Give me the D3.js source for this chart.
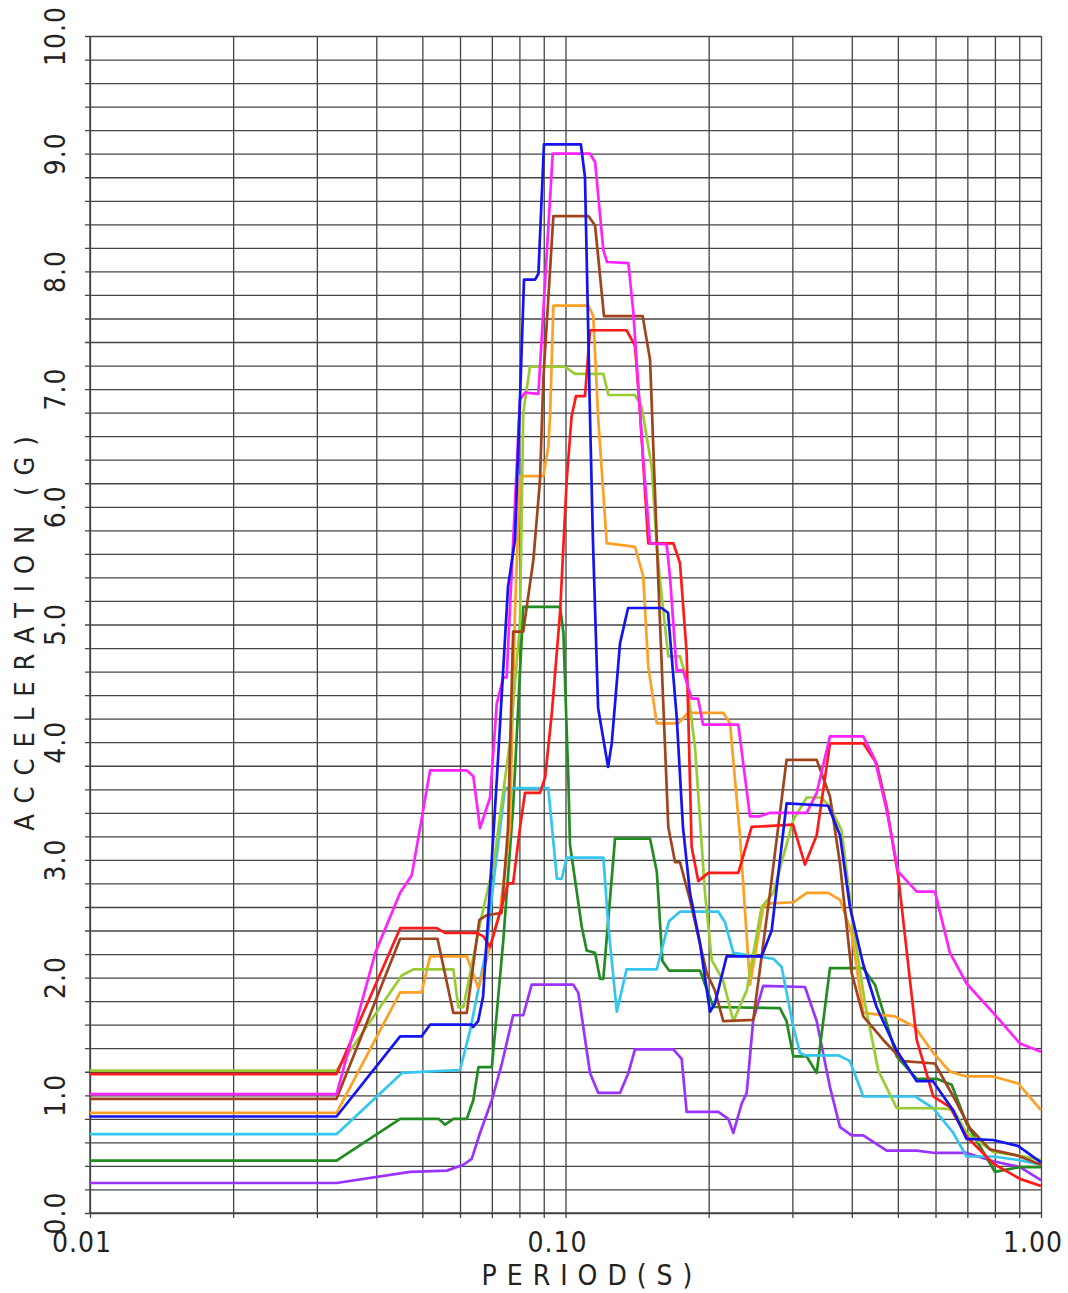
<!DOCTYPE html>
<html>
<head>
<meta charset="utf-8">
<script src="https://cdn.jsdelivr.net/npm/d3@7"></script>
<style>
  body { margin: 0; background: #fff; }
  svg { display: block; }
  text { font-family: "Liberation Sans Narrow", "DejaVu Sans Condensed", "Liberation Sans", sans-serif; fill: #222; }
</style>
</head>
<body>
<svg id="chart"></svg>
<script>
// plot area
var width = 1068;
var height = 1293;
var plotLeft = 90;
var plotRight = 1041;
var plotTop = 36;
var plotBottom = 1213;

// tick values
var periodGrid = [0.01, 0.02, 0.03, 0.04, 0.05, 0.06, 0.07, 0.08, 0.09,
                  0.1, 0.2, 0.3, 0.4, 0.5, 0.6, 0.7, 0.8, 0.9, 1.0];
var periodLabels = [[0.01, '0.01'], [0.1, '0.10'], [1.0, '1.00']];
var accelGrid = d3.range(0, 51).map(function(i) { return i / 5; });
var accelLabels = ['0.0', '1.0', '2.0', '3.0', '4.0', '5.0', '6.0', '7.0', '8.0', '9.0', '10.0'];

// series: [period (s), acceleration (g)]
var purpleData = [[0.01,0.255],[0.033,0.255],[0.0471,0.35],[0.0563,0.36],[0.061,0.41],[0.0635,0.46],
  [0.0661,0.68],[0.07,0.96],[0.0734,1.26],[0.0776,1.68],[0.0815,1.68],[0.0849,1.94],[0.1038,1.94],
  [0.1064,1.87],[0.1126,1.19],[0.1172,1.02],[0.1302,1.02],[0.1356,1.19],[0.14,1.39],[0.1686,1.39],
  [0.1755,1.31],[0.1798,0.86],[0.2096,0.86],[0.22,0.8],[0.2254,0.68],[0.2347,0.93],[0.2405,1.02],
  [0.2482,1.64],[0.2605,1.93],[0.3189,1.92],[0.3375,1.63],[0.3599,1.07],[0.3778,0.73],[0.3998,0.66],
  [0.4229,0.66],[0.4737,0.53],[0.5478,0.53],[0.5983,0.51],[0.6974,0.51],[0.7936,0.44],[0.9032,0.39],[1.0,0.28]];

var greenData = [[0.01,0.445],[0.033,0.445],[0.0449,0.8],[0.0541,0.8],[0.0558,0.75],[0.0581,0.8],
  [0.062,0.8],[0.064,0.96],[0.0656,1.24],[0.07,1.24],[0.0717,1.7],[0.074,2.32],[0.0776,3.45],
  [0.0789,4.02],[0.0815,5.15],[0.0974,5.15],[0.099,4.93],[0.1014,3.68],[0.1022,3.13],[0.1082,2.43],
  [0.1108,2.23],[0.1154,2.21],[0.1182,1.99],[0.1201,1.99],[0.1271,3.18],[0.1506,3.18],[0.1556,2.9],
  [0.1599,2.14],[0.1651,2.06],[0.1918,2.06],[0.2046,1.75],[0.2825,1.74],[0.2917,1.63],[0.3014,1.33],
  [0.3216,1.33],[0.3375,1.19],[0.3599,2.08],[0.4229,2.08],[0.4475,1.94],[0.4972,1.33],[0.5478,1.14],
  [0.6034,1.14],[0.6488,1.09],[0.6974,0.76],[0.8,0.35],[0.9032,0.39],[1.0,0.39]];

var cyanData = [[0.01,0.67],[0.033,0.67],[0.0453,1.19],[0.06,1.215],[0.063,1.55],[0.0683,2.26],
  [0.0705,2.8],[0.0746,3.61],[0.092,3.61],[0.0959,2.84],[0.0982,2.84],[0.1006,3.02],[0.1201,3.02],
  [0.1231,2.43],[0.1282,1.71],[0.1344,2.07],[0.1556,2.07],[0.1651,2.48],[0.1741,2.56],[0.2096,2.56],
  [0.2165,2.47],[0.2254,2.21],[0.2735,2.16],[0.2848,2.09],[0.3014,1.58],[0.3113,1.36],[0.3189,1.34],
  [0.3747,1.34],[0.3965,1.29],[0.4229,0.99],[0.5432,0.99],[0.5935,0.89],[0.6539,0.68],[0.6974,0.48],
  [0.7936,0.48],[0.8958,0.45],[1.0,0.41]];

var orangeData = [[0.01,0.85],[0.033,0.85],[0.0449,1.875],[0.0498,1.875],[0.0519,2.18],[0.062,2.18],
  [0.0656,1.91],[0.0683,2.16],[0.07,2.32],[0.0728,2.56],[0.0764,3.27],[0.0783,5.1],[0.0802,6.26],
  [0.0898,6.26],[0.092,6.51],[0.0928,6.77],[0.0943,7.71],[0.1117,7.71],[0.1144,7.62],[0.1172,6.74],
  [0.1221,5.69],[0.1231,5.69],[0.14,5.66],[0.1457,5.41],[0.1493,4.64],[0.1556,4.16],[0.1727,4.16],
  [0.1812,4.25],[0.2147,4.25],[0.2218,4.16],[0.2328,3.2],[0.2443,1.94],[0.2605,2.6],[0.2692,2.63],
  [0.3014,2.64],[0.3216,2.72],[0.3568,2.72],[0.3778,2.66],[0.3998,2.38],[0.4229,1.7],[0.4931,1.67],
  [0.5432,1.58],[0.5935,1.36],[0.6435,1.2],[0.6974,1.16],[0.7936,1.16],[0.8958,1.1],[1.0,0.875]];

var yellowGreenData = [[0.01,1.21],[0.033,1.21],[0.0453,2.02],[0.0479,2.07],[0.0581,2.07],[0.0595,1.75],
  [0.061,1.75],[0.0661,2.46],[0.0694,2.83],[0.0705,2.94],[0.0764,4.0],[0.0802,5.0],[0.0815,6.8],
  [0.0842,7.19],[0.0997,7.19],[0.1047,7.13],[0.1201,7.13],[0.1231,6.95],[0.14,6.95],[0.1446,6.85],
  [0.1518,6.34],[0.1556,5.66],[0.158,5.38],[0.1645,4.73],[0.1741,4.73],[0.1798,4.53],[0.1872,3.96],
  [0.1965,2.72],[0.203,2.15],[0.2147,1.97],[0.2254,1.63],[0.2405,1.89],[0.2585,2.6],[0.2735,2.72],
  [0.3014,3.34],[0.3216,3.53],[0.3457,3.53],[0.3599,3.45],[0.3809,3.25],[0.4029,2.43],[0.4264,1.78],
  [0.4548,1.21],[0.4972,0.89],[0.5983,0.89],[0.6539,0.88],[0.6974,0.68],[0.7936,0.52],[0.8958,0.49],[1.0,0.45]];

var brownData = [[0.01,0.97],[0.033,0.97],[0.0449,2.33],[0.0538,2.33],[0.0581,1.7],[0.062,1.7],
  [0.0659,2.49],[0.0683,2.53],[0.0734,2.55],[0.0757,3.27],[0.0776,4.94],[0.0815,4.94],[0.0856,5.55],
  [0.0884,6.23],[0.0898,7.08],[0.0943,8.47],[0.1117,8.47],[0.1154,8.39],[0.1205,7.62],[0.1453,7.62],
  [0.1506,7.25],[0.1567,5.38],[0.1645,3.28],[0.17,2.98],[0.1741,2.98],[0.1827,2.66],[0.1981,2.04],
  [0.2062,1.89],[0.2147,1.63],[0.2482,1.64],[0.2692,2.72],[0.2917,3.85],[0.3375,3.85],[0.3599,3.54],
  [0.3778,2.97],[0.3998,2.04],[0.4229,1.67],[0.4659,1.47],[0.5132,1.29],[0.5983,1.27],[0.6539,0.99],
  [0.709,0.72],[0.781,0.54],[0.8889,0.49],[1.0,0.41]];

var redData = [[0.01,1.18],[0.033,1.18],[0.0449,2.42],[0.0536,2.42],[0.0558,2.38],[0.065,2.38],
  [0.0672,2.35],[0.0694,2.26],[0.0728,2.55],[0.0757,2.8],[0.0776,2.8],[0.0802,3.27],[0.0822,3.57],
  [0.0884,3.57],[0.0906,3.7],[0.0936,4.25],[0.0974,5.1],[0.1006,6.23],[0.103,6.77],[0.1052,6.94],
  [0.1099,6.94],[0.1126,7.5],[0.1344,7.5],[0.14,7.37],[0.1434,6.82],[0.1493,5.69],[0.1686,5.69],
  [0.1741,5.52],[0.1798,4.76],[0.1842,3.11],[0.1902,2.82],[0.1997,2.89],[0.2309,2.89],[0.2463,3.28],
  [0.3009,3.3],[0.3189,2.96],[0.3375,3.21],[0.3599,3.99],[0.4229,3.99],[0.451,3.82],[0.4737,3.45],
  [0.501,2.86],[0.5478,1.47],[0.5935,0.99],[0.6435,0.9],[0.6974,0.65],[0.7936,0.42],[0.9032,0.29],[1.0,0.23]];

var magentaData = [[0.01,1.01],[0.033,1.01],[0.0398,2.21],[0.0449,2.72],[0.0475,2.87],[0.0519,3.76],
  [0.062,3.76],[0.064,3.71],[0.0661,3.27],[0.0694,3.53],[0.0717,4.33],[0.074,4.55],[0.0752,4.55],
  [0.0802,6.91],[0.0822,6.97],[0.0877,6.96],[0.094,9.0],[0.1126,9.0],[0.1154,8.93],[0.1201,8.18],
  [0.1223,8.08],[0.1356,8.07],[0.1389,7.65],[0.1457,6.4],[0.1506,5.69],[0.1632,5.68],[0.1659,5.4],
  [0.1713,4.61],[0.1766,4.61],[0.1842,4.37],[0.19,4.37],[0.1946,4.15],[0.2309,4.15],[0.2443,3.37],
  [0.2564,3.37],[0.2692,3.4],[0.3216,3.4],[0.3375,3.57],[0.3599,4.05],[0.4229,4.05],[0.4475,3.85],
  [0.4737,3.42],[0.501,2.9],[0.5478,2.73],[0.5983,2.73],[0.6435,2.21],[0.6974,1.95],[0.7936,1.7],
  [0.9032,1.44],[1.0,1.37]];

var blueData = [[0.01,0.82],[0.033,0.82],[0.0449,1.5],[0.0498,1.5],[0.0519,1.6],[0.0635,1.6],
  [0.0639,1.58],[0.0655,1.63],[0.0671,1.84],[0.0717,3.68],[0.0757,5.32],[0.0783,5.72],[0.0802,6.9],
  [0.0818,7.93],[0.0863,7.93],[0.0877,7.98],[0.0901,9.08],[0.1077,9.08],[0.1099,8.8],[0.1126,6.77],
  [0.1142,5.72],[0.1171,4.29],[0.1229,3.79],[0.1251,3.99],[0.1302,4.84],[0.1354,5.14],[0.1593,5.14],
  [0.1643,5.1],[0.1713,4.22],[0.1766,3.28],[0.1827,2.72],[0.1918,2.29],[0.2013,1.71],[0.2062,1.78],
  [0.2182,2.18],[0.2585,2.18],[0.2714,2.4],[0.2917,3.48],[0.3568,3.46],[0.3778,3.21],[0.3965,2.6],
  [0.4223,2.12],[0.451,1.75],[0.4972,1.38],[0.5478,1.12],[0.5926,1.12],[0.6529,0.875],[0.6974,0.63],
  [0.7924,0.62],[0.8944,0.57],[1.0,0.43]];

var seriesList = [purpleData, greenData, cyanData, orangeData, yellowGreenData,
                  brownData, redData, magentaData, blueData];
var seriesColors = ['#9a33ff', '#228b22', '#33c6f0', '#ffa024', '#99cc33',
                    '#a0441e', '#ff1a1a', '#ff22ff', '#1414f0'];

var svg = d3.select('#chart')
  .attr('width', width)
  .attr('height', height);

// X scale
var periodScale = d3.scaleLog()
  .domain([0.01, 1])
  .range([plotLeft, plotRight]);

// Y scale
var accelScale = d3.scaleLinear()
  .domain([0, 10])
  .range([plotBottom, plotTop]);

// vertical grid + small ticks below the axis
svg.append('g')
  .attr('class', 'grid')
  .attr('transform', 'translate(0,' + (plotBottom + 5) + ')')
  .call(d3.axisBottom(periodScale)
    .tickValues(periodGrid)
    .tickSize(-(plotBottom + 5 - plotTop))
    .tickFormat(''));

// horizontal grid + small ticks left of the axis
svg.append('g')
  .attr('class', 'grid')
  .attr('transform', 'translate(' + (plotLeft - 5) + ',0)')
  .call(d3.axisLeft(accelScale)
    .tickValues(accelGrid)
    .tickSize(-(plotRight - plotLeft + 5))
    .tickFormat(''));

svg.selectAll('.grid .domain').remove();
svg.selectAll('.grid line')
  .attr('stroke', '#444')
  .attr('stroke-width', 1.3);

// frame
svg.append('line')
  .attr('x1', plotLeft).attr('x2', plotLeft)
  .attr('y1', plotTop).attr('y2', plotBottom)
  .attr('stroke', '#444').attr('stroke-width', 1.5);
svg.append('line')
  .attr('x1', plotLeft).attr('x2', plotRight)
  .attr('y1', plotBottom).attr('y2', plotBottom)
  .attr('stroke', '#444').attr('stroke-width', 1.5);

// spectra
var line = d3.line()
  .x(function(d) { return periodScale(d[0]); })
  .y(function(d) { return accelScale(d[1]); });

svg.append('g')
  .selectAll('path')
  .data(seriesList)
  .enter().append('path')
    .attr('d', line)
    .attr('fill', 'none')
    .attr('stroke', function(d, i) { return seriesColors[i]; })
    .attr('stroke-width', 2.7)
    .attr('stroke-linejoin', 'round');

// y labels (rotated)
svg.append('g')
  .selectAll('text')
  .data(accelLabels)
  .enter().append('text')
    .attr('transform', function(d, i) {
      return 'translate(65,' + accelScale(i) + ') rotate(-90)';
    })
    .attr('text-anchor', 'middle')
    .attr('font-size', 28)
    .attr('letter-spacing', 1)
    .text(function(d) { return d; });

// x labels
svg.append('g')
  .selectAll('text')
  .data(periodLabels)
  .enter().append('text')
    .attr('x', function(d) { return periodScale(d[0]) - 8; })
    .attr('y', 1252)
    .attr('text-anchor', 'middle')
    .attr('font-size', 28)
    .attr('letter-spacing', 1)
    .text(function(d) { return d[1]; });

// axis titles
svg.append('text')
  .attr('x', 592)
  .attr('y', 1285)
  .attr('text-anchor', 'middle')
  .attr('font-size', 28)
  .attr('letter-spacing', 10)
  .text('PERIOD(S)');

svg.append('text')
  .attr('transform', 'translate(34,628) rotate(-90)')
  .attr('text-anchor', 'middle')
  .attr('font-size', 27)
  .attr('letter-spacing', 11)
  .text('ACCELERATION (G)');
</script>
</body>
</html>
